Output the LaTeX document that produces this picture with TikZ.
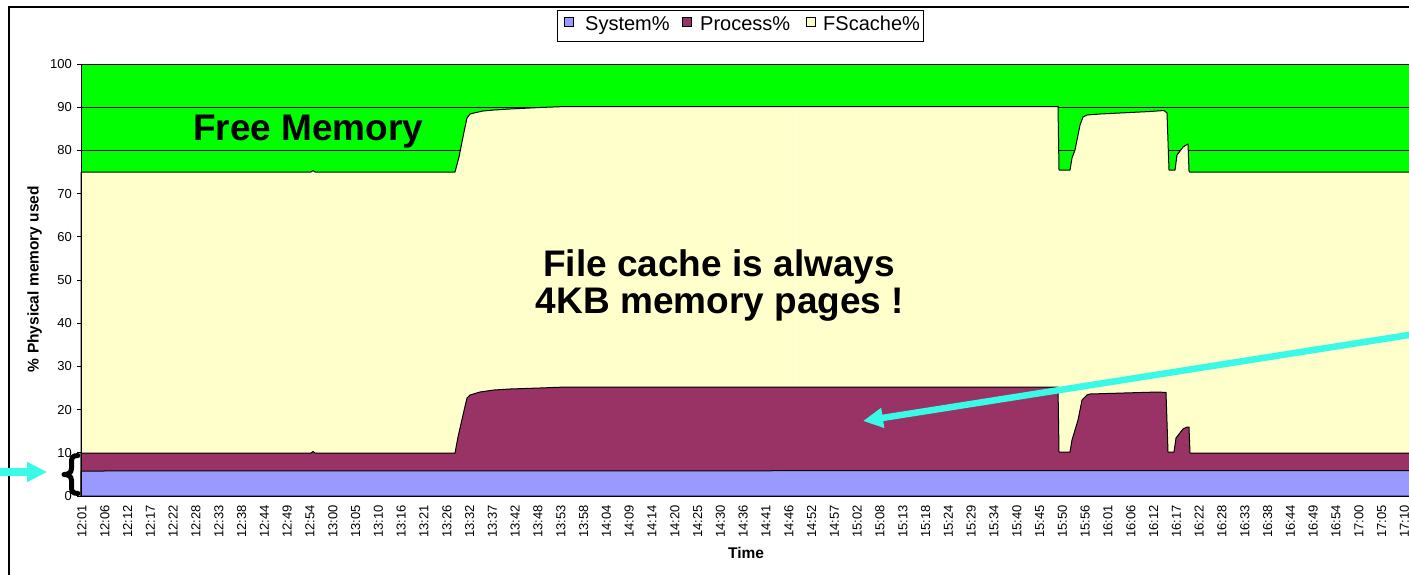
\documentclass[tikz,border=0pt]{standalone}
\usepackage{fontspec}
\setmainfont{Liberation Sans}
\usetikzlibrary{arrows.meta}
\definecolor{freegreen}{RGB}{0,255,0}
\definecolor{cachecol}{RGB}{255,255,204}
\definecolor{proccol}{RGB}{153,51,102}
\definecolor{syscol}{RGB}{153,153,255}
\definecolor{pointer}{RGB}{56,250,230}
\begin{document}
\begin{tikzpicture}[x=1pt,y=-1pt,
  ticklbl/.style={rotate=90,anchor=east,inner sep=0pt,font=\fontsize{13}{13}\selectfont},
  ylbl/.style={anchor=east,inner sep=0pt,font=\fontsize{13}{13}\selectfont},
  axtitle/.style={anchor=base,inner sep=0pt,font=\bfseries\fontsize{15.5}{15.5}\selectfont},
  bigtext/.style={inner sep=0pt,font=\bfseries\fontsize{37}{37}\selectfont},
  legkey/.style={draw=black,line width=0.7pt,minimum size=9pt,inner sep=0pt},
  legtxt/.style={anchor=base west,inner sep=0pt,font=\fontsize{20}{20}\selectfont},
  area/.style={draw=black,line width=1pt,line join=round},
  gridln/.style={black,line width=0.9pt},
  bracestroke/.style={black,line width=5pt,line cap=round,line join=round},
  pointerarrow/.style={pointer,-{Triangle[length=20pt,width=19pt]}}
]
\useasboundingbox (0,0) rectangle (1409,574);
\fill[white] (0,0) rectangle (1409,574);

% chart frame
\draw[black,line width=1.3pt] (9,580) -- (9,7) -- (1415,7);

% plot area: free memory shows as the green background
\fill[freegreen] (81,64) rectangle (1415,496);
\draw[gridln] (81,64) -- (1415,64);
\draw[gridln] (81,107.2) -- (1415,107.2);
\draw[gridln] (81,150.4) -- (1415,150.4);

% FScache% (stacked top)
\filldraw[area,fill=cachecol] (81,496) -- (81,172) -- (311,172) -- (313,170.5) -- (315,172)
  -- (455,172) -- (459,157) -- (464,132) -- (467,118) -- (470,114) -- (474,113)
  -- (483,111) -- (494,110) -- (510,109) -- (540,107.5) -- (566,106.5) -- (1058,106.5)
  -- (1059,170) -- (1070,170) -- (1072,158) -- (1075,150) -- (1080,125) -- (1083,117)
  -- (1087,115) -- (1100,114) -- (1150,111.5) -- (1164,110.5) -- (1167,113) -- (1169,170)
  -- (1175,170) -- (1177,155) -- (1183,147) -- (1188,144) -- (1189,171) -- (1189.5,172)
  -- (1415,172) -- (1415,496) -- cycle;
\draw[white,opacity=0.35,line width=1pt] (795.5,108) -- (795.5,495);

% Process%
\filldraw[area,fill=proccol] (81,496) -- (81,453) -- (311,453) -- (313,451.5) -- (315,453)
  -- (455,453) -- (458,437) -- (463,415) -- (467,398) -- (470,395) -- (480,392)
  -- (494,390) -- (510,389) -- (540,388) -- (566,387) -- (1058,387)
  -- (1059,452) -- (1070,452) -- (1072,440) -- (1078,420) -- (1082,400) -- (1087,395)
  -- (1090,394) -- (1158,392) -- (1166,392.5) -- (1168,452) -- (1174,452) -- (1176,438)
  -- (1183,429) -- (1187,427) -- (1189,427) -- (1190,453)
  -- (1415,453) -- (1415,496) -- cycle;

% System%
\filldraw[area,fill=syscol] (81,496) -- (81,471) -- (1415,470.5) -- (1415,496) -- cycle;

% axes
\draw[black,line width=1pt] (81,64) -- (81,496) -- (1415,496);

% y axis ticks and labels
\foreach \v in {0,10,...,100}{
  \draw[black,line width=0.8pt] (77,{496-4.32*\v}) -- (81,{496-4.32*\v});
  \node[ylbl] (y\v) at (72,{496-4.32*\v}) {\v};
}

% time labels
\foreach \t [count=\i from 0] in {12:01,12:06,12:12,12:17,12:22,12:28,12:33,12:38,12:44,12:49,12:54,
  13:00,13:05,13:10,13:16,13:21,13:26,13:32,13:37,13:42,13:48,13:53,13:58,
  14:04,14:09,14:14,14:20,14:25,14:30,14:36,14:41,14:46,14:52,14:57,
  15:02,15:08,15:13,15:18,15:24,15:29,15:34,15:40,15:45,15:50,15:56,
  16:01,16:06,16:12,16:17,16:22,16:28,16:33,16:38,16:44,16:49,16:54,
  17:00,17:05,17:10}{
  \node[ticklbl] (t\i) at ({82+22.8*\i},505) {\t};
}

% axis titles
\node[axtitle,rotate=90] (ytitle) at (38.5,279) {\% Physical memory used};
\node[axtitle] (xtitle) at (746,558) {Time};

% legend
\node[draw=black,fill=white,line width=0.9pt,minimum width=366pt,minimum height=31pt,
  inner sep=0pt,anchor=north west] (legend) at (557,10) {};
\node[legkey,fill=syscol] (ksys) at (568.5,22) {};
\node[legtxt] (lsys) at (585,30) {System\%};
\node[legkey,fill=proccol] (kproc) at (686.5,22) {};
\node[legtxt] (lproc) at (700,30) {Process\%};
\node[legkey,fill=cachecol] (kcache) at (810.5,22) {};
\node[legtxt] (lcache) at (823,30) {FScache\%};

% annotations
\node[bigtext,anchor=base west] (freelbl) at (193,140) {Free Memory};
\node[bigtext,anchor=base] (cache1) at (719,276.5) {File cache is always};
\node[bigtext,anchor=base] (cache2) at (720,313) {4KB memory pages !};

% curly brace grouping the System% and Process% bands
\coordinate (bracetop) at (78,455.5);
\coordinate (bracetip) at (64,474.5);
\coordinate (bracebot) at (78,493.5);
\draw[bracestroke] (bracetop) .. controls (72,455.5) and (71.5,458) .. (71.5,463)
  -- (71.5,468.5) .. controls (71.5,473) and (68,474.5) .. (bracetip)
  .. controls (68,474.5) and (71.5,476) .. (71.5,480.5)
  -- (71.5,486) .. controls (71.5,491) and (72,493.5) .. (bracebot);

\coordinate (ltail) at (-5,472);
\coordinate (lhead) at (47,472);
\draw[pointerarrow,line width=8pt] (ltail) -- (lhead);

\coordinate (rtail) at (1415,334);
\coordinate (rhead) at (863,421);
\draw[pointerarrow,line width=6.5pt] (rtail) -- (rhead);
\end{tikzpicture}
\end{document}
